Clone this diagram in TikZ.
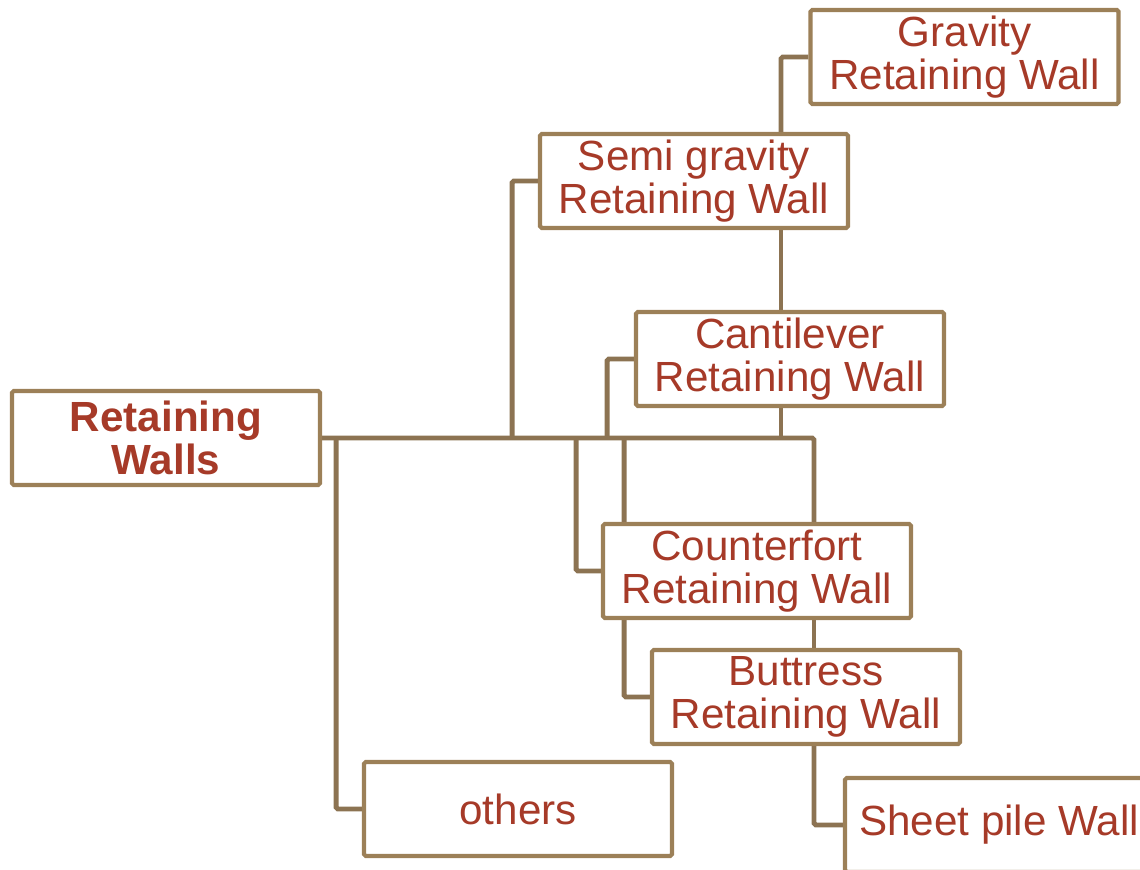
\documentclass[tikz,border=0pt]{standalone}
\usepackage{fontspec}
\setmainfont{Liberation Sans}
\usepackage{tikz}
\usetikzlibrary{backgrounds}

\definecolor{wallred}{HTML}{A63A28}
\definecolor{wallbrown}{HTML}{9C8058}
\definecolor{linkbrown}{HTML}{8C7352}

\begin{document}
\begin{tikzpicture}[
    wallbox/.style={draw=wallbrown, line width=1.2pt, fill=white, rounded corners=0.5pt,
      minimum width=3.08cm, minimum height=0.94cm, inner sep=0pt, align=center,
      text=wallred, font=\fontsize{12}{12.3}\selectfont},
    link/.style={draw=linkbrown, line width=1.4pt, rounded corners=0.5pt}]
    \useasboundingbox (0,0) rectangle (11.4,-8.7);
    \clip (0,0) rectangle (11.4,-8.7);

    % Boxes
    \node[wallbox, font=\fontsize{12}{12.3}\selectfont\bfseries] (root) at (1.66,-4.38) {Retaining\\Walls};
    \node[wallbox] (grav) at (9.645,-0.57) {Gravity\\Retaining Wall};
    \node[wallbox] (semi) at (6.94,-1.81) {Semi gravity\\Retaining Wall};
    \node[wallbox] (cant) at (7.90,-3.59) {Cantilever\\Retaining Wall};
    \node[wallbox] (counter) at (7.57,-5.71) {Counterfort\\Retaining Wall};
    \node[wallbox] (butt) at (8.06,-6.97) {Buttress\\Retaining Wall};
    \node[wallbox] (others) at (5.18,-8.09) {others};
    \node[wallbox] (sheet) at (9.99,-8.25) {Sheet pile Wall};

    % Junction points on the bus
    \coordinate (trunk) at (7.81,-4.38);
    \coordinate (busend) at (8.14,-4.38);

    % Connectors, behind the boxes
    \begin{scope}[on background layer]
    \draw[link] (root.east) -- (busend) -- (busend |- counter.north);
    \draw[link] (busend |- counter.south) -- (busend |- butt.north);
    \draw[link] (busend |- butt.south) |- (sheet.west);
    \draw[link] (trunk) -- (trunk |- cant.south);
    \draw[link] (trunk |- cant.north) -- (trunk |- semi.south);
    \draw[link] (trunk |- semi.north) |- (grav.west);
    \draw[link] (root.east) ++(0.14,0) |- (others.west);
    \draw[link] (root.east) ++(1.90,0) |- (semi.west);
    \draw[link] (root.east) ++(2.85,0) |- (cant.west);
    \draw[link] (root.east) ++(2.54,0) |- (counter.west);
    \draw[link] (root.east) ++(3.02,0) |- (butt.west);
    \end{scope}
\end{tikzpicture}
\end{document}
